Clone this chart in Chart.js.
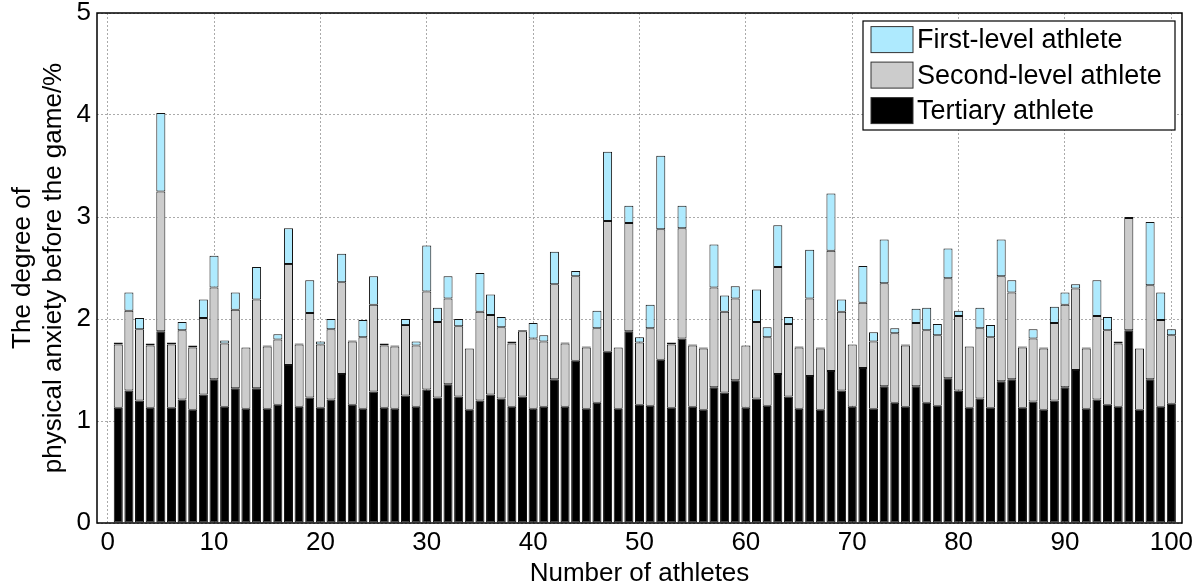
<!DOCTYPE html>
<html>
<head>
<meta charset="utf-8">
<title>Physical anxiety before the game</title>
<script src="https://cdn.jsdelivr.net/npm/chart.js@4/dist/chart.umd.min.js"></script>
<style>
    html, body { margin: 0; padding: 0; background: #fff; }
    #wrap { width: 1201px; height: 587px; }
</style>
</head>
<body>
<div id="wrap"><canvas id="anxiety-chart" width="1201" height="587"></canvas></div>
<script>
// values (height of each stacked segment)
const tertiary = [
    1.13, 1.30, 1.20, 1.13, 1.88, 1.13, 1.21, 1.11, 1.26, 1.41,
    1.14, 1.32, 1.12, 1.32, 1.12, 1.16, 1.55, 1.14, 1.23, 1.13,
    1.21, 1.46, 1.16, 1.12, 1.29, 1.13, 1.12, 1.25, 1.14, 1.31,
    1.23, 1.36, 1.24, 1.11, 1.20, 1.26, 1.22, 1.14, 1.24, 1.12,
    1.14, 1.41, 1.14, 1.59, 1.12, 1.18, 1.68, 1.12, 1.88, 1.16,
    1.15, 1.60, 1.13, 1.81, 1.14, 1.11, 1.33, 1.28, 1.40, 1.13,
    1.22, 1.15, 1.46, 1.24, 1.12, 1.44, 1.11, 1.49, 1.30, 1.14,
    1.52, 1.12, 1.34, 1.18, 1.14, 1.34, 1.18, 1.15, 1.42, 1.30,
    1.13, 1.22, 1.13, 1.39, 1.41, 1.13, 1.19, 1.11, 1.20, 1.33,
    1.50, 1.12, 1.21, 1.16, 1.14, 1.89, 1.11, 1.41, 1.14, 1.17
];
const secondLevel = [
    0.62, 0.78, 0.70, 0.61, 1.37, 0.62, 0.68, 0.61, 0.75, 0.90,
    0.62, 0.77, 0.60, 0.87, 0.61, 0.64, 0.99, 0.61, 0.83, 0.62,
    0.69, 0.90, 0.62, 0.70, 0.85, 0.61, 0.61, 0.69, 0.60, 0.96,
    0.74, 0.84, 0.69, 0.60, 0.87, 0.78, 0.70, 0.62, 0.64, 0.69,
    0.64, 0.93, 0.62, 0.83, 0.60, 0.73, 1.28, 0.60, 1.06, 0.61,
    0.76, 1.28, 0.62, 1.08, 0.60, 0.60, 0.98, 0.79, 0.80, 0.61,
    0.75, 0.67, 1.05, 0.71, 0.60, 0.76, 0.60, 1.18, 0.77, 0.61,
    0.64, 0.66, 1.01, 0.68, 0.60, 0.62, 0.71, 0.69, 0.98, 0.73,
    0.60, 0.69, 0.69, 1.03, 0.85, 0.59, 0.62, 0.60, 0.76, 0.81,
    0.80, 0.59, 0.82, 0.73, 0.62, 1.10, 0.60, 0.92, 0.85, 0.67
];
const firstLevel = [
    0.02, 0.18, 0.11, 0.02, 0.77, 0.02, 0.08, 0.02, 0.18, 0.31,
    0.03, 0.17, 0.00, 0.32, 0.01, 0.05, 0.35, 0.01, 0.32, 0.03,
    0.10, 0.28, 0.01, 0.17, 0.28, 0.02, 0.01, 0.06, 0.04, 0.45,
    0.14, 0.22, 0.07, 0.00, 0.38, 0.20, 0.10, 0.02, 0.01, 0.15,
    0.06, 0.32, 0.01, 0.05, 0.01, 0.17, 0.68, 0.00, 0.17, 0.05,
    0.23, 0.72, 0.02, 0.22, 0.01, 0.01, 0.42, 0.16, 0.12, 0.00,
    0.32, 0.10, 0.41, 0.07, 0.01, 0.48, 0.01, 0.56, 0.12, 0.00,
    0.36, 0.09, 0.43, 0.05, 0.01, 0.14, 0.22, 0.11, 0.29, 0.05,
    0.00, 0.20, 0.12, 0.36, 0.12, 0.01, 0.09, 0.01, 0.16, 0.12,
    0.04, 0.01, 0.35, 0.13, 0.02, 0.01, 0.00, 0.62, 0.27, 0.06
];
const xTicks = [0, 10, 20, 30, 40, 50, 60, 70, 80, 90, 100];
const yTicks = [0, 1, 2, 3, 4, 5];

const athletes = tertiary.map((v, i) => i + 1);
const toPoints = arr => arr.map((v, i) => ({ x: athletes[i], y: v }));

const FONT = 'Liberation Sans, Arial, Helvetica, sans-serif';

// legend box drawn inside the plot, top right, plus the closed axes box
const boxAndLegend = {
    id: 'boxAndLegend',
    afterDraw(chart) {
        const ctx = chart.ctx;
        const area = chart.chartArea;
        ctx.save();
        // axes box
        ctx.strokeStyle = '#000';
        ctx.lineWidth = 1.5;
        ctx.strokeRect(area.left, area.top, area.right - area.left, area.bottom - area.top);

        // legend
        const w = 312, h = 109;
        const lx = area.right - 7 - w;
        const ly = area.top + 8;
        ctx.fillStyle = '#fff';
        ctx.fillRect(lx, ly, w, h);
        ctx.lineWidth = 1.2;
        ctx.strokeRect(lx, ly, w, h);
        const items = chart.data.datasets.slice().reverse();
        ctx.font = '27px ' + FONT;
        ctx.textBaseline = 'middle';
        items.forEach((ds, i) => {
            const cy = ly + 18.6 + i * 35.5;
            ctx.fillStyle = ds.backgroundColor;
            ctx.fillRect(lx + 8, cy - 13, 42, 26);
            ctx.strokeStyle = '#333';
            ctx.lineWidth = 1;
            ctx.strokeRect(lx + 8, cy - 13, 42, 26);
            ctx.fillStyle = '#000';
            ctx.fillText(ds.label, lx + 54, cy + 1);
        });
        ctx.restore();
    }
};

const ctx = document.getElementById('anxiety-chart').getContext('2d');

const data = {
    datasets: [
        {
            label: 'Tertiary athlete',
            data: toPoints(tertiary),
            backgroundColor: '#000000'
        },
        {
            label: 'Second-level athlete',
            data: toPoints(secondLevel),
            backgroundColor: '#cccccc'
        },
        {
            label: 'First-level athlete',
            data: toPoints(firstLevel),
            backgroundColor: '#aeeafe'
        }
    ]
};
data.datasets.forEach(ds => {
    ds.borderColor = '#111';
    ds.borderWidth = 1;
    ds.borderSkipped = false;
    ds.categoryPercentage = 1;
    ds.barPercentage = 0.85;
});

const config = {
    type: 'bar',
    data: data,
    options: {
        responsive: false,
        animation: false,
        layout: { padding: { top: 13, right: 19, left: 0, bottom: 0 } },
        plugins: {
            legend: { display: false },
            tooltip: { enabled: false }
        },
        scales: {
            x: {
                type: 'linear',
                stacked: true,
                offset: false,
                min: -1,
                max: 101,
                afterBuildTicks: scale => { scale.ticks = xTicks.map(v => ({ value: v })); },
                afterFit: scale => {
                    scale.height = 64;
                    scale.paddingLeft = 0;
                    scale.paddingRight = 0;
                },
                grid: { color: '#aaaaaa', lineWidth: 1, drawTicks: false, offset: false },
                border: { display: false, dash: [2, 2] },
                ticks: { color: '#000', padding: 4, maxRotation: 0, font: { family: FONT, size: 26, lineHeight: 1.2 } },
                title: {
                    display: true,
                    text: 'Number of athletes',
                    color: '#000',
                    padding: { top: 0, bottom: 0 },
                    font: { family: FONT, size: 26, lineHeight: 1 }
                }
            },
            y: {
                stacked: true,
                min: 0,
                max: 5,
                afterBuildTicks: scale => { scale.ticks = yTicks.map(v => ({ value: v })); },
                afterFit: scale => {
                    scale.width = 97;
                    scale.paddingTop = 0;
                    scale.paddingBottom = 0;
                },
                grid: { color: '#aaaaaa', lineWidth: 1, drawTicks: false },
                border: { display: false, dash: [2, 2] },
                ticks: { color: '#000', padding: 6, font: { family: FONT, size: 26 } },
                title: {
                    display: true,
                    text: ['The degree of', 'physical anxiety before the game/%'],
                    color: '#000',
                    padding: { top: 7, bottom: 0 },
                    font: { family: FONT, size: 26, lineHeight: 1.2 }
                }
            }
        }
    },
    plugins: [boxAndLegend]
};

const anxietyChart = new Chart(ctx, config);
</script>
</body>
</html>
